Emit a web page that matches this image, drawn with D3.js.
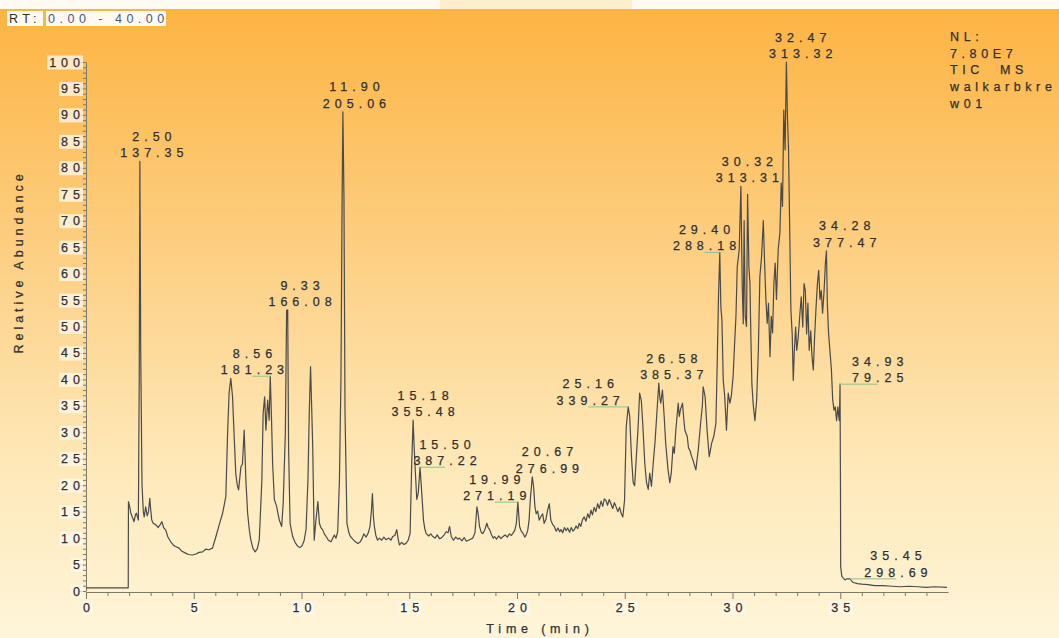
<!DOCTYPE html>
<html>
  <head>
    <meta charset="utf-8">
    <title>TIC MS chromatogram</title>
    <script src="https://d3js.org/d3.v7.min.js"></script>
    <style>
      body { margin: 0; background: #fffbf4; }
      svg text { font-family: "Liberation Sans", Arial, sans-serif; }
    </style>
  </head>
  <body>
    <svg id="chart" width="1059" height="638"></svg>
    <script>
      // trace: retention time (min) and relative abundance (%)
      const times = [
        0.00, 1.96, 1.97, 2.05, 2.08, 2.15, 2.23, 2.30, 2.34, 2.43, 2.47, 2.50, 2.54, 2.60, 2.66, 2.70,
        2.77, 2.84, 2.90, 2.96, 3.00, 3.05, 3.12, 3.24, 3.35, 3.45, 3.52, 3.60, 3.70, 3.80, 3.93, 4.05,
        4.15, 4.32, 4.45, 4.60, 4.75, 4.94, 5.10, 5.25, 5.41, 5.55, 5.70, 5.87, 6.03, 6.18, 6.34, 6.49,
        6.57, 6.64, 6.72, 6.80, 6.87, 6.95, 7.02, 7.08, 7.19, 7.26, 7.34, 7.42, 7.50, 7.58, 7.65, 7.75,
        7.85, 7.95, 8.04, 8.16, 8.22, 8.29, 8.35, 8.43, 8.50, 8.55, 8.61, 8.66, 8.74, 8.84, 8.97, 9.08,
        9.15, 9.25, 9.31, 9.36, 9.40, 9.47, 9.59, 9.70, 9.82, 9.92, 10.02, 10.12, 10.21, 10.30, 10.36, 10.42,
        10.47, 10.52, 10.59, 10.67, 10.76, 10.83, 10.90, 10.98, 11.06, 11.14, 11.25, 11.37, 11.52, 11.60, 11.68, 11.76,
        11.83, 11.88, 11.92, 11.97, 12.02, 12.11, 12.20, 12.27, 12.38, 12.50, 12.62, 12.73, 12.82, 12.89, 13.00, 13.10,
        13.18, 13.25, 13.29, 13.34, 13.38, 13.45, 13.53, 13.62, 13.72, 13.82, 13.92, 14.05, 14.15, 14.23, 14.33, 14.42,
        14.48, 14.54, 14.65, 14.75, 14.85, 14.95, 15.04, 15.11, 15.18, 15.23, 15.27, 15.35, 15.42, 15.50, 15.58, 15.66,
        15.72, 15.78, 15.90, 16.00, 16.09, 16.20, 16.30, 16.40, 16.48, 16.60, 16.71, 16.80, 16.87, 16.95, 17.05, 17.15,
        17.25, 17.33, 17.45, 17.55, 17.65, 17.80, 17.95, 18.05, 18.14, 18.20, 18.26, 18.35, 18.42, 18.50, 18.60, 18.66,
        18.73, 18.82, 18.90, 18.96, 19.05, 19.15, 19.25, 19.35, 19.45, 19.55, 19.65, 19.74, 19.81, 19.90, 19.97, 20.04,
        20.12, 20.20, 20.28, 20.36, 20.43, 20.50, 20.56, 20.62, 20.67, 20.71, 20.77, 20.83, 20.89, 20.96, 21.03, 21.10,
        21.19, 21.26, 21.34, 21.42, 21.50, 21.57, 21.65, 21.73, 21.82, 21.90, 21.98, 22.04, 22.12, 22.20, 22.28, 22.35,
        22.44, 22.52, 22.60, 22.66, 22.74, 22.82, 22.89, 22.96, 23.04, 23.12, 23.20, 23.28, 23.36, 23.43, 23.50, 23.58,
        23.66, 23.74, 23.82, 23.90, 23.98, 24.05, 24.13, 24.20, 24.28, 24.36, 24.44, 24.52, 24.60, 24.68, 24.76, 24.84,
        24.91, 24.99, 25.07, 25.16, 25.23, 25.31, 25.39, 25.46, 25.54, 25.62, 25.69, 25.77, 25.85, 25.93, 26.01, 26.09,
        26.16, 26.24, 26.32, 26.40, 26.50, 26.58, 26.63, 26.67, 26.75, 26.83, 26.90, 27.01, 27.09, 27.16, 27.24, 27.30,
        27.37, 27.48, 27.53, 27.58, 27.68, 27.74, 27.79, 27.90, 27.96, 28.02, 28.10, 28.17, 28.30, 28.36, 28.41, 28.52,
        28.60, 28.64, 28.73, 28.82, 28.92, 28.97, 29.03, 29.13, 29.23, 29.29, 29.35, 29.41, 29.46, 29.51, 29.57, 29.64,
        29.72, 29.80, 29.88, 29.95, 30.03, 30.10, 30.16, 30.22, 30.31, 30.39, 30.45, 30.50, 30.54, 30.59, 30.65, 30.70,
        30.76, 30.81, 30.85, 30.90, 30.96, 31.04, 31.12, 31.20, 31.27, 31.35, 31.43, 31.49, 31.55, 31.61, 31.67, 31.74,
        31.80, 31.86, 31.92, 31.98, 32.04, 32.12, 32.20, 32.26, 32.32, 32.38, 32.44, 32.50, 32.55, 32.60, 32.66, 32.71,
        32.77, 32.82, 32.87, 32.93, 32.98, 33.05, 33.13, 33.19, 33.26, 33.32, 33.38, 33.44, 33.50, 33.56, 33.63, 33.69,
        33.75, 33.81, 33.87, 33.94, 34.00, 34.06, 34.12, 34.18, 34.25, 34.31, 34.36, 34.40, 34.46, 34.52, 34.59, 34.65,
        34.71, 34.77, 34.83, 34.89, 34.93, 34.96, 34.99, 35.01, 35.02, 35.07, 35.15, 35.22, 35.30, 35.45, 35.60, 35.80,
        36.00, 36.30, 36.60, 37.00, 37.40, 37.80, 38.20, 38.60, 39.00, 39.40, 39.95
      ];
      const abund = [
        0.6, 0.6, 16.9, 15.5, 14.7, 14.0, 13.1, 14.5, 14.7, 13.4, 40.0, 81.2, 45.0, 20.0, 15.0, 14.0,
        15.9, 14.2, 15.0, 17.5, 15.5, 13.4, 12.8, 12.5, 12.0, 12.6, 13.1, 12.0, 11.5, 10.2, 9.3, 8.7,
        8.4, 8.1, 7.5, 7.2, 6.9, 6.8, 7.0, 7.3, 7.4, 7.9, 7.8, 8.1, 10.3, 12.5, 14.7, 17.9,
        29.8, 37.4, 40.2, 36.7, 29.8, 22.2, 20.0, 19.1, 23.5, 24.0, 30.4, 20.9, 14.7, 11.5, 9.6, 8.0,
        7.4, 8.0, 9.6, 20.9, 33.6, 36.7, 30.4, 36.1, 32.3, 40.6, 32.3, 24.1, 17.3, 16.1, 13.4, 12.2,
        16.6, 29.8, 53.1, 53.1, 27.3, 12.8, 10.3, 9.2, 8.5, 8.2, 8.5, 9.5, 11.6, 20.9, 33.6, 42.4,
        35.0, 27.3, 9.6, 13.4, 16.9, 12.8, 12.0, 11.6, 10.8, 10.3, 9.6, 9.3, 10.6, 10.0, 11.2, 20.9,
        39.9, 71.4, 90.6, 74.5, 33.6, 12.8, 11.0, 10.3, 9.8, 9.3, 9.0, 9.3, 10.0, 10.8, 10.2, 11.0,
        12.2, 15.5, 18.4, 14.0, 12.2, 10.5, 9.6, 10.0, 9.6, 10.2, 9.7, 10.0, 9.6, 10.3, 10.5, 11.6,
        10.0, 8.7, 9.2, 8.8, 9.0, 9.6, 10.9, 23.5, 32.3, 27.0, 23.5, 17.3, 18.6, 23.4, 18.6, 13.4,
        11.8, 10.9, 10.4, 10.8, 10.3, 10.0, 10.6, 9.9, 10.0, 10.5, 11.2, 11.0, 12.2, 10.3, 9.6, 10.2,
        9.8, 10.0, 9.5, 10.1, 9.4, 9.7, 10.0, 11.0, 15.9, 14.5, 12.2, 11.0, 10.9, 11.5, 12.8, 12.0,
        11.6, 10.6, 10.0, 10.3, 9.8, 10.4, 9.9, 10.3, 10.6, 10.2, 10.8, 10.5, 10.9, 11.5, 12.8, 16.8,
        12.2, 11.3, 10.9, 10.2, 10.6, 11.5, 13.4, 17.5, 19.7, 21.6, 19.7, 16.0, 14.6, 15.1, 13.4, 14.0,
        14.6, 12.8, 13.5, 15.3, 16.5, 13.4, 12.6, 12.2, 11.3, 11.9, 11.2, 11.6, 11.0, 12.0, 11.4, 11.9,
        11.1, 12.0, 11.3, 11.6, 12.3, 11.8, 12.8, 12.2, 13.5, 14.0, 13.2, 14.6, 13.8, 15.3, 14.4, 15.8,
        15.0, 16.5, 15.6, 17.0, 16.0, 17.4, 17.1, 16.2, 17.3, 16.5, 15.6, 16.7, 15.9, 15.0, 15.8, 14.6,
        14.0, 17.1, 31.1, 34.8, 33.0, 25.5, 20.5, 19.9, 25.5, 31.0, 37.4, 36.0, 30.5, 24.1, 20.5, 19.2,
        22.3, 19.8, 24.1, 27.9, 34.2, 39.3, 36.5, 35.5, 38.0, 33.0, 27.9, 22.9, 20.5, 22.3, 27.3, 26.0,
        30.4, 35.5, 33.0, 34.2, 35.5, 32.5, 30.4, 29.2, 27.0, 26.6, 25.5, 24.7, 22.9, 25.0, 26.6, 31.7,
        35.0, 38.6, 36.7, 30.4, 25.4, 26.5, 27.9, 29.2, 31.7, 43.0, 55.6, 64.0, 53.7, 51.2, 39.9, 36.7,
        30.4, 37.4, 35.5, 37.0, 40.7, 47.0, 51.9, 61.3, 64.4, 76.5, 58.1, 50.5, 70.0, 51.9, 50.0, 75.0,
        61.3, 58.1, 48.6, 39.1, 35.3, 32.2, 36.0, 45.5, 59.4, 63.3, 70.0, 62.0, 55.1, 50.6, 54.4, 44.3,
        51.9, 48.8, 58.1, 62.0, 55.1, 64.5, 67.7, 77.1, 72.7, 90.9, 83.4, 100, 89.7, 83.4, 67.0, 53.1,
        48.6, 39.8, 45.5, 49.9, 45.5, 48.0, 52.5, 55.6, 49.9, 58.1, 56.8, 48.6, 54.4, 45.5, 49.2, 44.3,
        41.8, 48.0, 53.1, 58.1, 60.6, 55.1, 56.8, 52.5, 56.8, 61.9, 64.3, 54.4, 48.6, 45.5, 41.8, 36.1,
        34.2, 34.8, 32.2, 34.8, 33.0, 32.2, 39.1, 20.0, 4.6, 2.8, 2.4, 2.1, 2.3, 2.3, 1.6, 1.4,
        1.3, 1.2, 1.0, 1.0, 0.9, 0.8, 0.9, 0.8, 0.7, 0.8, 0.7
      ];

      // peak labels: retention time, base peak m/z, apex abundance
      const annRT = ["2.50", "8.56", "9.33", "11.90", "15.18", "15.50", "19.99", "20.67",
                     "25.16", "26.58", "29.40", "30.32", "32.47", "34.28", "34.93", "35.45"];
      const annMZ = ["137.35", "181.23", "166.08", "205.06", "355.48", "387.22", "271.19", "276.99",
                     "339.27", "385.37", "288.18", "313.31", "313.32", "377.47", "79.25", "298.69"];
      const annAbund = [81.2, 40.6, 53.1, 90.6, 32.3, 23.4, 16.8, 21.6,
                        34.8, 39.3, 64.0, 76.5, 100, 64.3, 39.1, 2.3];

      const infoLines = ["NL:", "7.80E7", "TIC  MS", "walkarbkre", "w01"];

      // label placement (px), kept apart from the data
      const annShift = [12, -18, 13, 12, 10, 25, -22, 16, -40, 13, -15, 8, 15, 20, 39, 46];
      const annLeader = [0, 1, 0, 0, 0, 1, 1, 0, 1, 0, 1, 0, 0, 0, 1, 1];

      const chart = d3.select("#chart");
      const textCol = "#2f2f2f";

      // background
      const defs = chart.append("defs");
      const grad = defs.append("linearGradient").attr("id", "bg")
        .attr("x1", 0).attr("y1", 0).attr("x2", 0).attr("y2", 1);
      grad.append("stop").attr("offset", "0%").attr("stop-color", "#fdb443");
      grad.append("stop").attr("offset", "40%").attr("stop-color", "#fdd085");
      grad.append("stop").attr("offset", "72%").attr("stop-color", "#fee8b8");
      grad.append("stop").attr("offset", "100%").attr("stop-color", "#fef5d9");
      chart.append("rect").attr("width", 1059).attr("height", 638).attr("fill", "#fffaf2");
      chart.append("rect").attr("y", 9).attr("width", 1059).attr("height", 629).attr("fill", "url(#bg)");
      chart.append("rect").attr("x", 440).attr("width", 192).attr("height", 9).attr("fill", "#fdeecd");

      const x = d3.scaleLinear().domain([0, 40]).range([86, 948]);
      const y = d3.scaleLinear().domain([0, 100]).range([591, 62]);

      // axes
      const xAxisGroup = chart.append("g").attr("transform", "translate(0," + 592 + ")")
        .call(d3.axisBottom(x)
          .tickValues(d3.range(0, 40))
          .tickSize(4)
          .tickSizeOuter(0)
          .tickFormat(function(d) { return d % 5 ? "" : d; }));
      xAxisGroup.selectAll(".tick line").attr("y2", function(d) { return d % 5 ? 4 : 7; });
      xAxisGroup.selectAll(".tick text").attr("y", 11).attr("dx", 2.5);

      const yAxisGroup = chart.append("g").attr("transform", "translate(86,0)")
        .call(d3.axisLeft(y)
          .tickValues(d3.range(0, 101))
          .tickSize(3)
          .tickSizeOuter(0)
          .tickFormat(function(d) { return d % 5 ? "" : d; }));
      yAxisGroup.selectAll(".tick line").attr("x2", function(d) { return d % 5 ? -3 : -6; });
      yAxisGroup.selectAll(".tick text").attr("x", -1);

      chart.selectAll(".domain, .tick line").attr("stroke", "#7a7a6a").attr("stroke-width", 1);
      chart.selectAll(".tick text")
        .attr("fill", textCol)
        .attr("stroke", textCol)
        .attr("stroke-width", 0.25)
        .style("font-size", "12.5px")
        .style("letter-spacing", "5px");

      // pale boxes behind tick labels
      chart.selectAll(".tick").each(function() {
        const t = d3.select(this).select("text");
        if (!t.text()) return;
        const b = t.node().getBBox();
        d3.select(this).insert("rect", "text")
          .attr("x", b.x - 2).attr("y", b.y)
          .attr("width", b.width).attr("height", b.height)
          .attr("fill", "#fff8ec").attr("opacity", 0.75);
      });

      // axis titles
      chart.append("text")
        .attr("x", 540).attr("y", 633)
        .attr("text-anchor", "middle")
        .attr("fill", textCol).attr("stroke", textCol).attr("stroke-width", 0.25)
        .style("font-size", "12.5px").style("letter-spacing", "4.8px")
        .text("Time (min)");
      chart.append("text")
        .attr("transform", "translate(23,262) rotate(-90)")
        .attr("text-anchor", "middle")
        .attr("fill", textCol).attr("stroke", textCol).attr("stroke-width", 0.25)
        .style("font-size", "12.5px").style("letter-spacing", "4px")
        .text("Relative Abundance");

      // trace
      const trace = times.map(function(t, i) { return [t, abund[i]]; });
      const line = d3.line()
        .x(function(d) { return x(d[0]); })
        .y(function(d) { return y(d[1]); });
      chart.append("path")
        .attr("d", line(trace))
        .attr("fill", "none")
        .attr("stroke", "#4a4a4a")
        .attr("stroke-width", 1.2)
        .attr("stroke-linejoin", "round");

      // peak labels
      annRT.forEach(function(rt, i) {
        const px = x(+rt);
        const py = y(annAbund[i]);
        const cx = px + annShift[i];
        const base = py - (annLeader[i] ? 2 : 4);
        if (annLeader[i]) {
          chart.append("line")
            .attr("x1", px).attr("x2", cx)
            .attr("y1", py).attr("y2", py)
            .attr("stroke", "#8cc48c").attr("stroke-width", 1);
        }
        const g = chart.append("g")
          .attr("fill", textCol)
          .attr("stroke", textCol)
          .attr("stroke-width", 0.25)
          .attr("text-anchor", "middle")
          .style("font-size", "12.5px")
          .style("letter-spacing", "5px");
        g.append("text").attr("x", cx + 2.5).attr("y", base - 16.5).text(rt);
        g.append("text").attr("x", cx + 2.5).attr("y", base).text(annMZ[i]);
      });

      // header
      const rtLabel = chart.append("g").style("font-size", "12.5px").style("letter-spacing", "4.5px");
      rtLabel.append("rect").attr("x", 7).attr("y", 11).attr("width", 36).attr("height", 15).attr("fill", "#fffaf0");
      rtLabel.append("rect").attr("x", 46).attr("y", 11).attr("width", 120).attr("height", 15).attr("fill", "#fffaf0");
      rtLabel.append("text").attr("x", 9).attr("y", 23).attr("fill", textCol).text("RT:");
      rtLabel.append("text").attr("x", 48).attr("y", 23).attr("fill", "#44558a").text("0.00 - 40.00");

      chart.append("g")
        .attr("fill", textCol)
        .attr("stroke", textCol)
        .attr("stroke-width", 0.25)
        .style("font-size", "12.5px")
        .style("letter-spacing", "4.6px")
        .selectAll("text")
        .data(infoLines)
        .join("text")
          .attr("x", 950)
          .attr("y", function(d, i) { return 41 + i * 16.7; })
          .style("white-space", "pre")
          .text(function(d) { return d; });
    </script>
  </body>
</html>
